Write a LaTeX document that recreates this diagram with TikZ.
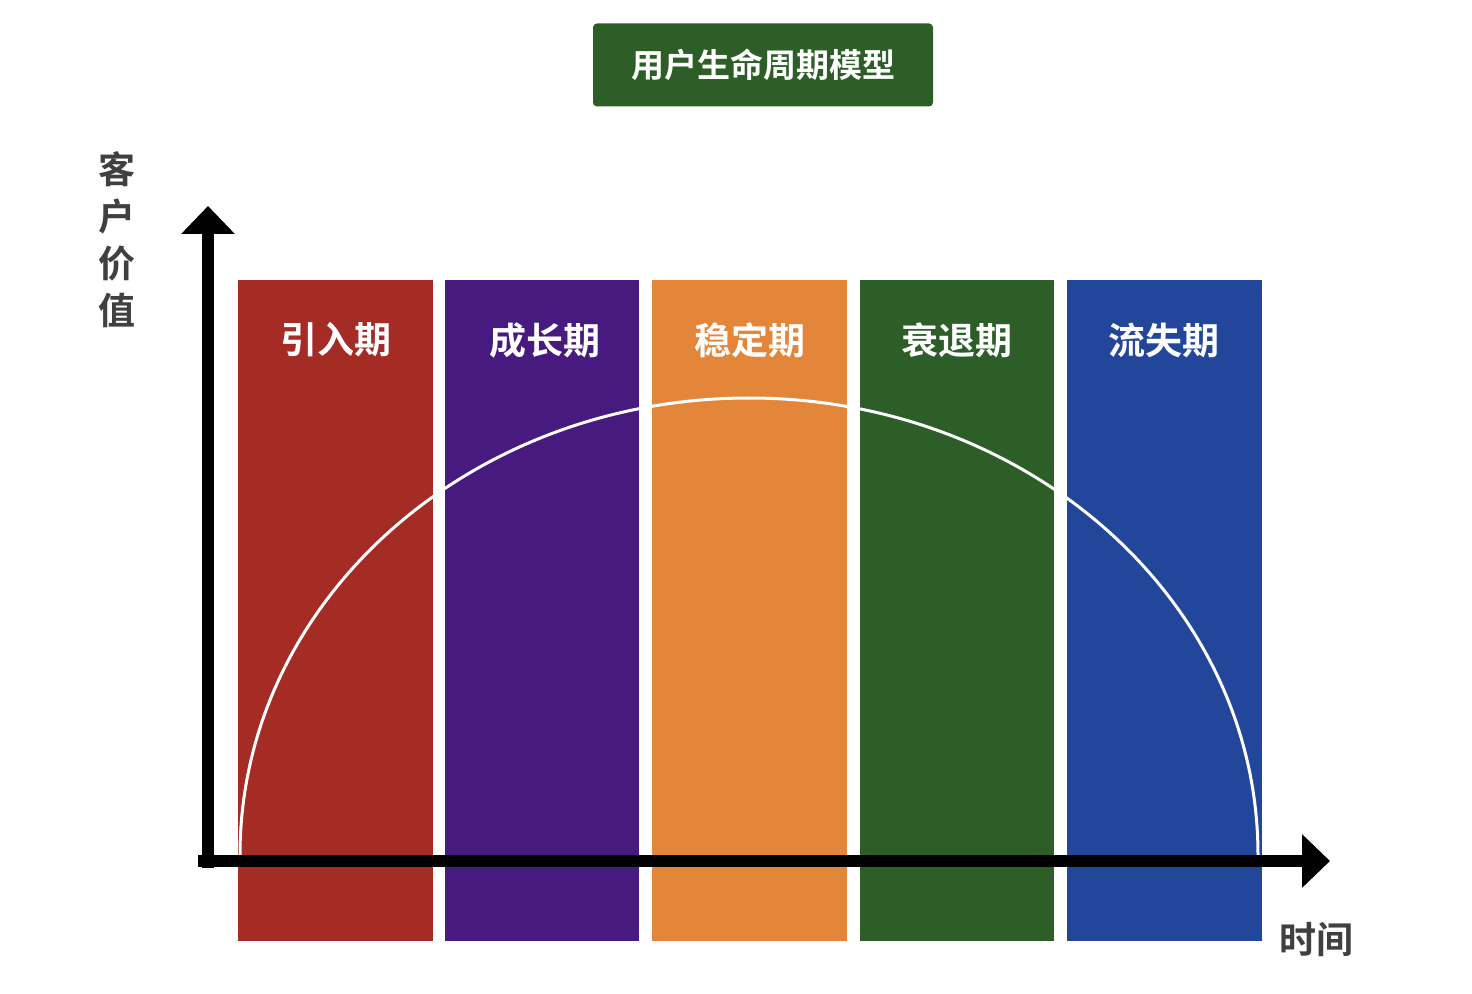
\documentclass[tikz,border=0pt]{standalone}
\usepackage{fontspec}
\newfontfamily\cjk{Noto Sans CJK SC Bold}
\usetikzlibrary{arrows.meta}
\definecolor{cred}{HTML}{A52B25}
\definecolor{cpur}{HTML}{471A80}
\definecolor{cora}{HTML}{E38639}
\definecolor{cgre}{HTML}{2E5E28}
\definecolor{cblu}{HTML}{22479A}
\tikzset{bar/.style={fill=#1,draw=none},
 lab/.style={text=white,font=\cjk\fontsize{18.5}{18.5}\selectfont},
 axis/.style={line width=6pt,-{Triangle[length=14pt,width=26pt]}}}
\begin{document}
\begin{tikzpicture}[x=0.5pt,y=-0.5pt]
\useasboundingbox (0,0) rectangle (1472,994);
\fill[white] (0,0) rectangle (1472,994);
\node[fill=cgre,rounded corners=2pt,minimum width=170pt,minimum height=41.5pt,text=white,font=\cjk\fontsize{16.5}{16.5}\selectfont] (title) at (763,65) {用户生命周期模型};
\fill[bar=cred] (238,280) rectangle (433,941);
\fill[bar=cpur] (445,280) rectangle (639,941);
\fill[bar=cora] (652,280) rectangle (847,941);
\fill[bar=cgre] (860,280) rectangle (1054,941);
\fill[bar=cblu] (1067,280) rectangle (1262,941);
\node[lab] (l1) at (336,340) {引入期};
\node[lab] (l2) at (545,340) {成长期};
\node[lab] (l3) at (750,340) {稳定期};
\node[lab] (l4) at (957,340) {衰退期};
\node[lab] (l5) at (1164,340) {流失期};
\draw[white,line width=1.5pt] (240,855) arc[start angle=180,end angle=360,x radius=509,y radius=457];
\coordinate (o) at (208,868);
\coordinate (yt) at (208,206);
\coordinate (ox) at (198,861);
\coordinate (xt) at (1330,861);
\draw[axis] (o) -- (yt);
\draw[axis] (ox) -- (xt);
\node[font=\cjk\fontsize{18.5}{23.5}\selectfont,text=black!75,align=center] (yl) at (117,240) {客\\户\\价\\值};
\node[font=\cjk\fontsize{18.5}{18.5}\selectfont,text=black!75] (xl) at (1316,940) {时间};
\end{tikzpicture}
\end{document}
